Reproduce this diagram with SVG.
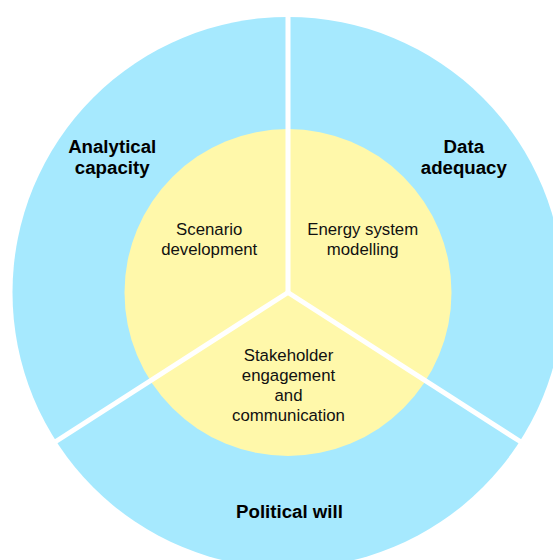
<svg xmlns="http://www.w3.org/2000/svg" width="553" height="560" viewBox="0 0 553 560">
  <style>
    .outer { fill: #a6e9fe; }
    .inner { fill: #fff8aa; }
    .div { stroke: #ffffff; stroke-width: 5; stroke-linecap: butt; fill: none; }
    .lbl-b { font-family: "Liberation Sans", Arial, sans-serif; font-size: 18.67px; font-weight: bold; fill: #000000; text-anchor: middle; }
    .lbl { font-family: "Liberation Sans", Arial, sans-serif; font-size: 16.8px; fill: #111111; text-anchor: middle; }
  </style>
  <rect width="553" height="560" fill="#ffffff"/>
  <g id="outer-ring">
    <circle class="outer" cx="288" cy="292.5" r="275.5"/>
  </g>
  <g id="inner-circle">
    <circle class="inner" cx="288" cy="292.5" r="163.5"/>
  </g>
  <g id="connectors">
    <line class="div" x1="288" y1="292.5" x2="288" y2="10"/>
    <line class="div" x1="288" y1="292.5" x2="55" y2="442"/>
    <line class="div" x1="288" y1="292.5" x2="521" y2="442"/>
  </g>
  <g id="analytical-capacity">
    <text class="lbl-b" x="112.2" y="153.3">Analytical</text>
    <text class="lbl-b" x="112.2" y="174">capacity</text>
  </g>
  <g id="data-adequacy">
    <text class="lbl-b" x="463.8" y="153.3">Data</text>
    <text class="lbl-b" x="463.8" y="174">adequacy</text>
  </g>
  <g id="political-will">
    <text class="lbl-b" x="289.5" y="517.5">Political will</text>
  </g>
  <g id="scenario-development">
    <text class="lbl" x="209.2" y="235">Scenario</text>
    <text class="lbl" x="209.2" y="254.5">development</text>
  </g>
  <g id="energy-system-modelling">
    <text class="lbl" x="362.7" y="235">Energy system</text>
    <text class="lbl" x="362.7" y="254.5">modelling</text>
  </g>
  <g id="stakeholder-engagement">
    <text class="lbl" x="288.5" y="361">Stakeholder</text>
    <text class="lbl" x="288.5" y="381">engagement</text>
    <text class="lbl" x="288.5" y="401">and</text>
    <text class="lbl" x="288.5" y="421">communication</text>
  </g>
</svg>
